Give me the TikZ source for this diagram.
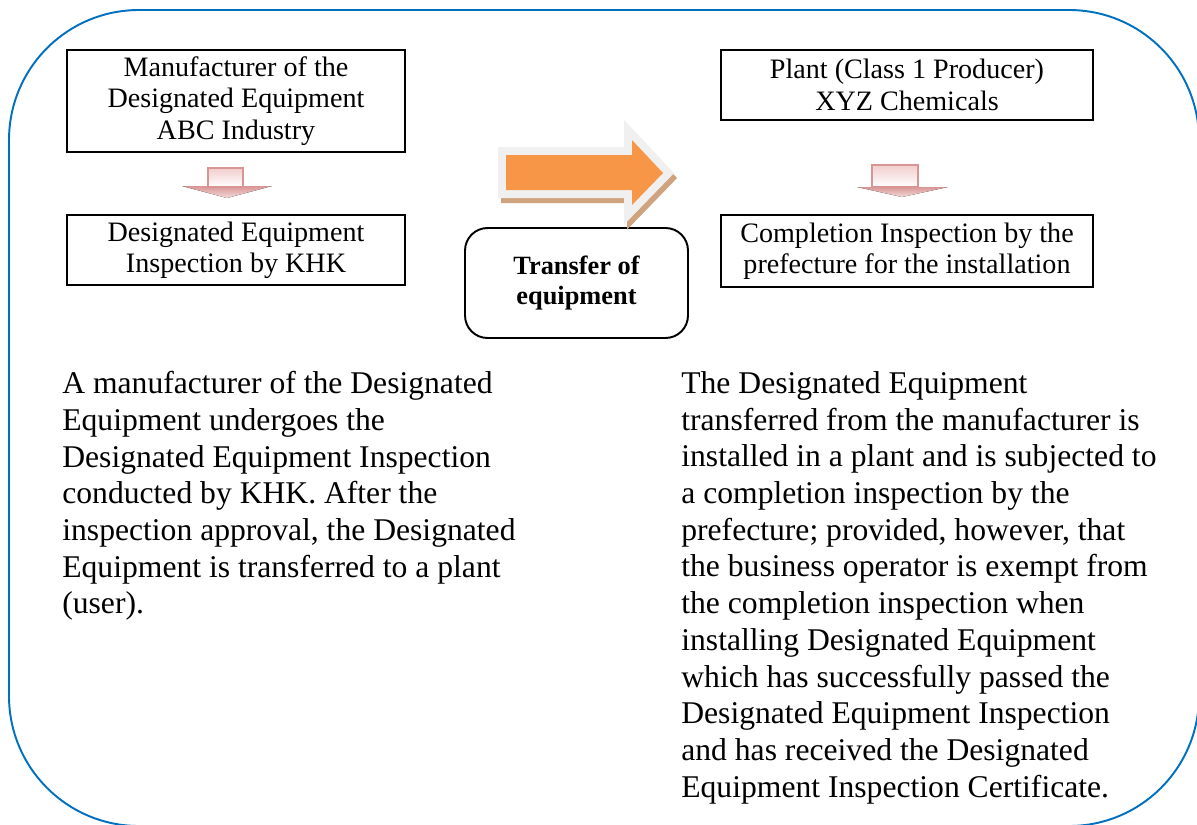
\documentclass[tikz,border=0pt]{standalone}
\usepackage{fontspec}
\setmainfont{Liberation Serif}
\usetikzlibrary{positioning}

\definecolor{frameblue}{RGB}{0,112,192}
\definecolor{arroworange}{RGB}{247,150,70}
\definecolor{arrowedge}{RGB}{240,240,240}
\definecolor{arrowshadow}{RGB}{207,163,125}
\definecolor{pinkline}{RGB}{217,149,148}
\definecolor{pinkfill}{RGB}{242,205,205}

\tikzset{
  stagebox/.style = {draw, line width = 1pt, align = center, inner sep = 0pt,
    minimum width = 6.76cm, font = \fontsize{16}{17.8}\selectfont},
  transferbox/.style = {draw, line width = 1.1pt, rounded corners = 0.45cm, align = center,
    minimum width = 4.46cm, minimum height = 2.2cm, font = \fontsize{15}{17}\selectfont\bfseries},
  bodytext/.style = {anchor = north west, align = left, inner sep = 0pt,
    font = \fontsize{18}{20.9}\selectfont},
  pinkhead/.style = {top color = pinkline, bottom color = pinkline!35},
  pinkbody/.style = {draw = pinkline, line width = 1pt, top color = pinkfill, bottom color = white}
}

\begin{document}
\begin{tikzpicture}[x = 0.02cm, y = -0.02cm]
\useasboundingbox (0, 0) rectangle (1197, 825);

\begin{scope}
\clip (0, 0) rectangle (1197, 825);
\draw[frameblue, line width = 1.1pt, rounded corners = 2.6cm] (9, 10) rectangle (1199, 826);
\end{scope}

\node[stagebox, minimum height = 2.04cm] (maker) at (236, 101) {Manufacturer of the\\Designated Equipment\\ABC Industry};
\node[stagebox, minimum height = 1.4cm] (khk) at (236, 250) {Designated Equipment\\Inspection by KHK};
\node[stagebox, minimum width = 7.44cm, minimum height = 1.4cm] (plant) at (907, 85) {Plant (Class 1 Producer)\\XYZ Chemicals};
\node[stagebox, minimum width = 7.44cm, minimum height = 1.44cm] (prefecture) at (907, 251) {Completion Inspection by the\\prefecture for the installation};
\node[transferbox] (transfer) at (576.5, 283) {Transfer of\\equipment};

\fill[pinkhead] (182, 186) -- (272, 186) -- (227, 198) -- cycle;
\draw[pinkbody] (208, 168) rectangle (243, 187);
\fill[pinkhead] (857, 187) -- (948, 187) -- (902, 197) -- cycle;
\draw[pinkbody] (872, 165) rectangle (918, 187);

\begin{scope}[shift = {(3, 5)}]
\filldraw[arrowshadow, line width = 0.32cm, line join = miter]
  (506, 155) -- (632, 155) -- (632, 140) -- (663, 173) -- (632, 205) -- (632, 190) -- (506, 190) -- cycle;
\end{scope}
\filldraw[arrowedge, line width = 0.32cm, line join = miter]
  (506, 155) -- (632, 155) -- (632, 140) -- (663, 173) -- (632, 205) -- (632, 190) -- (506, 190) -- cycle;
\fill[arroworange]
  (506, 155) -- (632, 155) -- (632, 140) -- (663, 173) -- (632, 205) -- (632, 190) -- (506, 190) -- cycle;

\node[bodytext] (makernote) at (62, 371) {A manufacturer of the Designated\\Equipment undergoes the\\Designated Equipment Inspection\\conducted by KHK. After the\\inspection approval, the Designated\\Equipment is transferred to a plant\\(user).};
\node[bodytext] (plantnote) at (681, 371) {The Designated Equipment\\transferred from the manufacturer is\\installed in a plant and is subjected to\\a completion inspection by the\\prefecture; provided, however, that\\the business operator is exempt from\\the completion inspection when\\installing Designated Equipment\\which has successfully passed the\\Designated Equipment Inspection\\and has received the Designated\\Equipment Inspection Certificate.};
\end{tikzpicture}
\end{document}
